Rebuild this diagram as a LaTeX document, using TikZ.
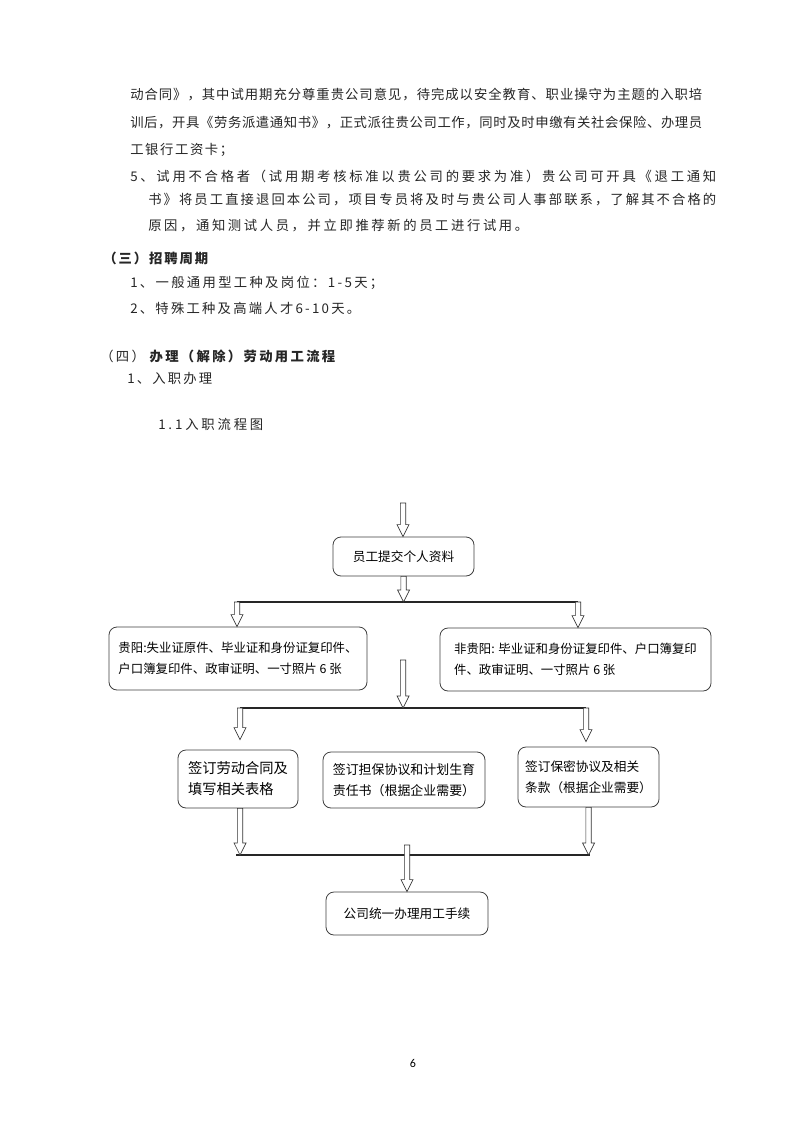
\documentclass[tikz,border=0pt]{standalone}
\usepackage{fontspec}
\newfontfamily\cjk{Noto Sans CJK SC}
\newfontfamily\pagefont{Carlito}
\usetikzlibrary{shapes,arrows,positioning,calc}

\def\px{0.75pt}
\newcommand{\bodyfont}{\cjk\fontsize{10}{12}\selectfont}
\newcommand{\boxfont}[1]{\cjk\fontsize{#1}{15.75}\selectfont}

% one line of text spread to a given width (in px)
\ExplSyntaxOn
\NewDocumentCommand{\spreadto}{mm}
  {\hbox_to_wd:nn {#1\dimexpr\px\relax} {\tl_map_inline:nn {#2} {##1\hfil} \unskip}}
\ExplSyntaxOff

\tikzset{
     para/.style={anchor=west, inner sep=0pt, text=black!85, font=\bodyfont},
     box/.style={draw=black!75, line width=0.6pt, rounded corners=6pt,
       fill=white, inner sep=0pt, align=left, font=\boxfont{#1}},
     harrow/.style={draw=black!80, line width=0.5pt, fill=white},
     hline/.style={draw=black!85, line width=0.8pt},
}

\newcommand{\hollowarrow}[2]{%
  \draw[harrow] let \p1=(#1), \p2=(#2) in
    (\x1-2pt,\y1) -- (\x1+2pt,\y1) -- (\x1+2pt,\y2+9pt) -- (\x1+4.5pt,\y2+9pt)
    -- (\x1,\y2) -- (\x1-4.5pt,\y2+9pt) -- (\x1-2pt,\y2+9pt) -- cycle;}

\begin{document}
\begin{tikzpicture}[x=\px, y=-\px]
		\fill[white] (0,0) rectangle (800,1130);
		\useasboundingbox (0,0) rectangle (800,1130);

		\begin{scope}
		%%text
		\node[para] (l1) at (130,95) {\spreadto{572}{动合同》，其中试用期充分尊重贵公司意见，待完成以安全教育、职业操守为主题的入职培}};
		\node[para] (l2) at (130,123) {\spreadto{572}{训后，开具《劳务派遣通知书》，正式派往贵公司工作，同时及时申缴有关社会保险、办理员}};
		\node[para] (l3) at (130,150) {\spreadto{103}{工银行工资卡；}};
		\node[para] (l4) at (130,176) {\spreadto{586}{5、试用不合格者（试用期考核标准以贵公司的要求为准）贵公司可开具《退工通知}};
		\node[para] (l5) at (148,200) {\spreadto{568}{书》将员工直接退回本公司，项目专员将及时与贵公司人事部联系，了解其不合格的}};
		\node[para] (l6) at (148,226) {\spreadto{380}{原因，通知测试人员，并立即推荐新的员工进行试用。}};

		\node[para] (h3) at (103,258) {\bfseries\spreadto{105}{（三）招聘周期}};
		\node[para] (i1) at (130,283) {\spreadto{253}{1、一般通用型工种及岗位：1-5天；}};
		\node[para] (i2) at (130,308) {\spreadto{230}{2、特殊工种及高端人才6-10天。}};

		\node[para] (h4) at (100,356) {\spreadto{235}{（四）\bfseries 办理（解除）劳动用工流程}};
		\node[para] (s1) at (127,378) {\spreadto{85}{1、入职办理}};
		\node[para] (s11) at (158,424) {\spreadto{105}{1.1入职流程图}};
		\end{scope}

		\begin{scope}
		%%flow chart
		\coordinate (top) at (403,503);
		\node[box=9.5, minimum width=141*\px, minimum height=39*\px, align=center]
			(submit) at (403.5,556.5) {员工提交个人资料};

		\coordinate (j1) at (403,602);
		\coordinate (j1l) at (237,602);
		\coordinate (j1r) at (578,602);

		\node[box=9.3, minimum width=258*\px, minimum height=63*\px]
			(gy) at (238,658.5) {贵阳:失业证原件、毕业证和身份证复印件、\\户口簿复印件、政审证明、一寸照片 6 张};
		\node[box=9.3, minimum width=271*\px, minimum height=63*\px]
			(fgy) at (575.5,659.5) {非贵阳: 毕业证和身份证复印件、户口簿复印\\件、政审证明、一寸照片 6 张};

		\coordinate (m2) at (403,660);
		\coordinate (j2) at (403,708);
		\coordinate (j2l) at (240,708);
		\coordinate (j2r) at (586,708);

		\node[box=10.7, minimum width=120*\px, minimum height=58*\px]
			(sign1) at (238,779) {签订劳动合同及\\填写相关表格};
		\node[box=9.7, minimum width=162*\px, minimum height=56*\px]
			(sign2) at (404,780) {签订担保协议和计划生育\\责任书（根据企业需要）};
		\node[box=9.5, minimum width=141*\px, minimum height=60*\px]
			(sign3) at (588.5,777) {签订保密协议及相关\\条款（根据企业需要）};

		\coordinate (j3l) at (236,855);
		\coordinate (j3r) at (590,855);
		\coordinate (m4) at (407,845);

		\node[box=9.5, minimum width=162*\px, minimum height=43*\px, align=center]
			(final) at (407,913.5) {公司统一办理用工手续};

		\draw[hline] (j1l) -- (j1r);
		\draw[hline] (j2l) -- (j2r);
		\draw[hline] (j3l) -- (j3r);

		\hollowarrow{top}{submit.north}
		\hollowarrow{submit.south}{j1}
		\hollowarrow{j1l}{j1l |- gy.north}
		\hollowarrow{j1r}{j1r |- fgy.north}
		\hollowarrow{m2}{j2}
		\hollowarrow{j2l}{$(j2l |- sign1.north)+(0,-10)$}
		\hollowarrow{j2r}{$(j2r |- sign3.north)+(0,-5)$}
		\hollowarrow{sign1.south -| j2l}{j2l |- j3l}
		\hollowarrow{sign3.south}{sign3.south |- j3r}
		\hollowarrow{m4}{final.north}
		\end{scope}

		\node[font=\pagefont\fontsize{9}{11}\selectfont] (pageno) at (413,1063) {6};
\end{tikzpicture}
\end{document}
